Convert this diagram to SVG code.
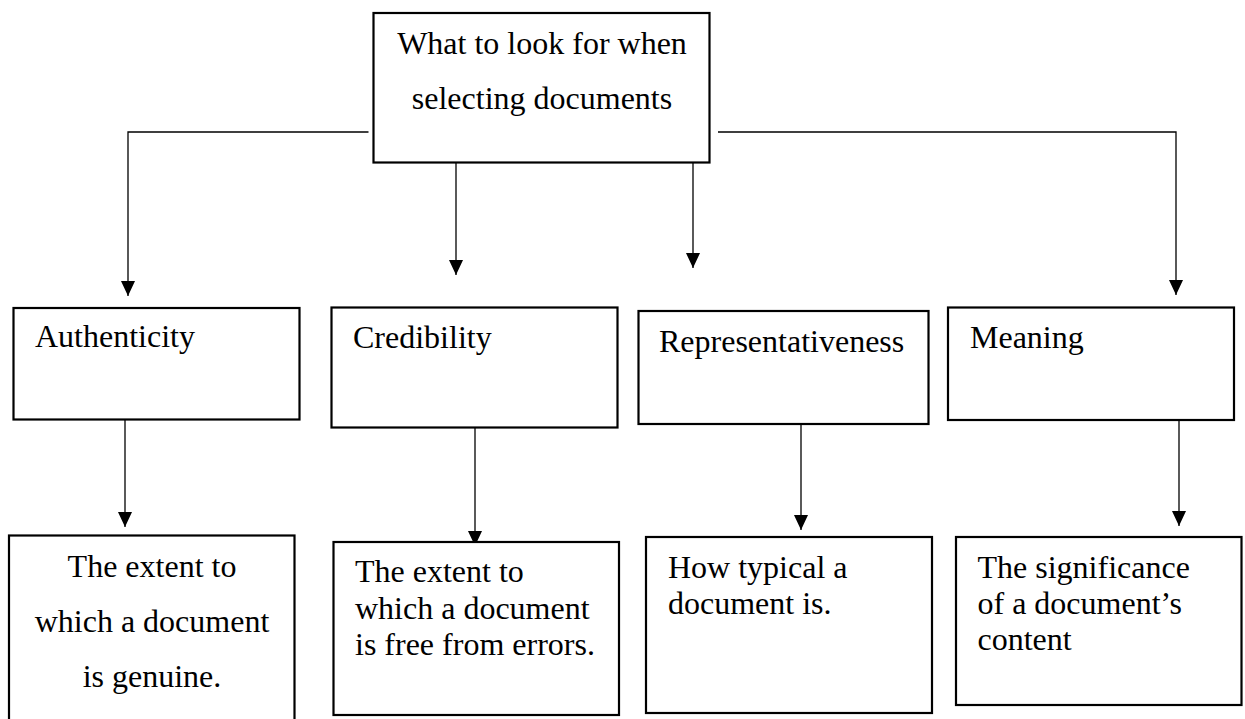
<svg xmlns="http://www.w3.org/2000/svg" width="1245" height="719" viewBox="0 0 1245 719">
  <style>
    .box { fill: #ffffff; stroke: #000000; stroke-width: 2.2; }
    .lbl { font-family: "Liberation Serif", "Times New Roman", serif; font-size: 32px; fill: #000000; }
    .mid { text-anchor: middle; }
    .wire { fill: none; stroke: #000000; stroke-width: 1.3; }
  </style>
  <defs>
    <!-- solid downward arrowhead; the tip sits on the line end -->
    <marker id="arrowdown" viewBox="0 0 14 15" refX="7" refY="15" markerWidth="14" markerHeight="15" markerUnits="userSpaceOnUse" orient="0">
      <path d="M0,0 L14,0 L7,15 Z" fill="#000000"/>
    </marker>
  </defs>
  <rect width="1245" height="719" fill="#ffffff"/>

  <!-- connectors -->
  <g id="connectors">
    <polyline class="wire" points="368.5,132 128,132 128,296" marker-end="url(#arrowdown)"/>
    <polyline class="wire" points="718,132 1176,132 1176,295" marker-end="url(#arrowdown)"/>
    <line class="wire" x1="456" y1="162" x2="456" y2="275" marker-end="url(#arrowdown)"/>
    <line class="wire" x1="693" y1="162" x2="693" y2="268" marker-end="url(#arrowdown)"/>
    <line class="wire" x1="125" y1="420" x2="125" y2="527" marker-end="url(#arrowdown)"/>
    <line class="wire" x1="475" y1="428" x2="475" y2="546" marker-end="url(#arrowdown)"/>
    <line class="wire" x1="801" y1="424" x2="801" y2="530" marker-end="url(#arrowdown)"/>
    <line class="wire" x1="1179" y1="420" x2="1179" y2="526" marker-end="url(#arrowdown)"/>
  </g>

  <!-- root -->
  <g id="root">
    <rect class="box" x="373.5" y="13" width="336" height="149.5"/>
    <text class="lbl mid" x="542" y="53.5">What to look for when</text>
    <text class="lbl mid" x="542" y="109">selecting documents</text>
  </g>

  <!-- criteria -->
  <g id="authenticity">
    <rect class="box" x="13.5" y="308" width="286" height="111.5"/>
    <text class="lbl" x="35" y="347">Authenticity</text>
  </g>
  <g id="credibility">
    <rect class="box" x="331.5" y="307.5" width="286" height="120"/>
    <text class="lbl" x="353" y="347.5">Credibility</text>
  </g>
  <g id="representativeness">
    <rect class="box" x="638.5" y="311" width="290" height="113"/>
    <text class="lbl" x="659" y="351.5">Representativeness</text>
  </g>
  <g id="meaning">
    <rect class="box" x="948" y="307.5" width="286" height="112.5"/>
    <text class="lbl" x="970" y="347.5">Meaning</text>
  </g>

  <!-- descriptions -->
  <g id="authenticity-desc">
    <rect class="box" x="9" y="535.5" width="285.5" height="195"/>
    <text class="lbl mid" x="152" y="577">The extent to</text>
    <text class="lbl mid" x="152" y="632">which a document</text>
    <text class="lbl mid" x="152" y="686.5">is genuine.</text>
  </g>
  <g id="credibility-desc">
    <rect class="box" x="333.5" y="542" width="285.5" height="173"/>
    <text class="lbl" x="355" y="581.5">The extent to</text>
    <text class="lbl" x="355" y="618.5">which a document</text>
    <text class="lbl" x="355" y="655">is free from errors.</text>
  </g>
  <g id="representativeness-desc">
    <rect class="box" x="646" y="537" width="286" height="176"/>
    <text class="lbl" x="668" y="578">How typical a</text>
    <text class="lbl" x="668" y="613.5">document is.</text>
  </g>
  <g id="meaning-desc">
    <rect class="box" x="956" y="537" width="285.5" height="168"/>
    <text class="lbl" x="977.5" y="578">The significance</text>
    <text class="lbl" x="977.5" y="613.5">of a document’s</text>
    <text class="lbl" x="977.5" y="650">content</text>
  </g>
</svg>
